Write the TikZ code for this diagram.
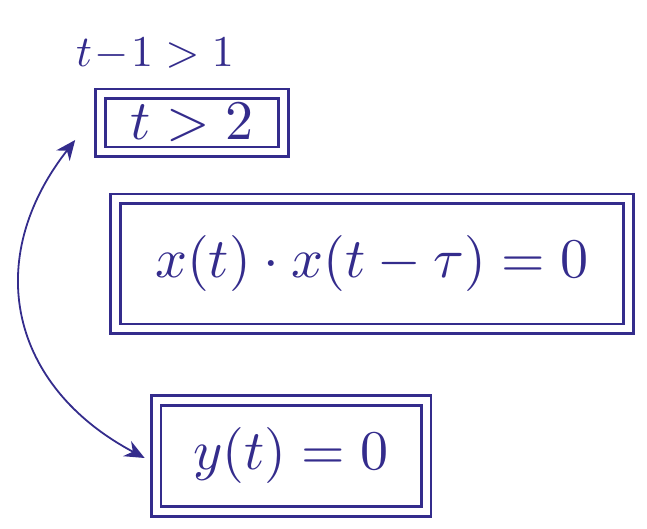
\documentclass[tikz,border=0pt]{standalone}
\usepackage{graphicx}
\usetikzlibrary{arrows.meta,positioning}
\definecolor{ink}{RGB}{52,44,140}
\newcommand{\bigmath}[2]{\scalebox{#1}{$#2$}}

\begin{document}
\begin{tikzpicture}[
  x=1pt,y=1pt,
  dbox/.style={draw=ink,line width=2.6pt,double=white,double distance=7pt,
               text=ink,inner sep=0pt},
  lbl/.style={text=ink,inner sep=0pt},
  arr/.style={draw=ink,line width=1.8pt,{Stealth[length=7mm,width=6mm]}-{Stealth[length=7mm,width=6mm]}}
]
\useasboundingbox (0,0) rectangle (647,529);
\node[dbox,minimum width=183pt,minimum height=58pt] (gt) at (192,406) {\bigmath{5.6}{t>2}};
\node[lbl,above=22pt of gt,xshift=-37pt] (shift) {\bigmath{4.4}{t\!-\!1>1}};
\node[dbox,minimum width=513pt,minimum height=130pt] (prod) at (372,265)
  {\bigmath{5.6}{x(t)\cdot x(t-\tau)=0}};
\node[dbox,minimum width=270pt,minimum height=111pt] (zero) at (291,73) {\bigmath{5.6}{y(t)=0}};
\draw[arr] ([xshift=-24pt,yshift=-17pt]gt.west) to[out=232,in=152,looseness=1.2]
  ([xshift=-10pt,yshift=-2pt]zero.west);
\end{tikzpicture}
\end{document}
